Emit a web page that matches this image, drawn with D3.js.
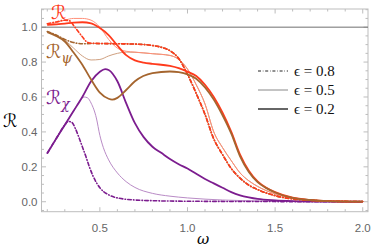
<!DOCTYPE html>
<html><head><meta charset="utf-8">
<script src="https://cdn.jsdelivr.net/npm/d3@7"></script>
<style>body{margin:0;background:#fff}svg{display:block}</style>
</head><body><svg id="c" width="374" height="248"></svg>
<script>
// ω grid points and curve values
const omegaThickR = [0.2,0.25,0.3,0.35,0.4,0.45,0.5,0.55,0.6,0.65,0.7,0.75,0.8,0.9,0.95,1.0,1.05,1.1,1.15,1.2,1.25,1.3,1.35,1.4,1.45,1.5,1.6,1.7,1.8,2.0];
const R_eps02 =        [1.013,1.016,1.02,1.026,1.028,1.022,0.995,0.955,0.895,0.84,0.81,0.797,0.79,0.778,0.765,0.745,0.72,0.67,0.60,0.51,0.40,0.27,0.178,0.117,0.08,0.055,0.023,0.01,0.004,0.001];
const omegaThickPsi = [0.2,0.25,0.3,0.35,0.4,0.45,0.5,0.55,0.57,0.6,0.65,0.7,0.8,0.9,0.95,1.0,1.05,1.1,1.15,1.2,1.25,1.3,1.35,1.4,1.45,1.5,1.6,1.7,1.8,2.0];
const Rpsi_eps02 =    [0.972,0.95,0.918,0.855,0.785,0.70,0.625,0.59,0.585,0.595,0.64,0.69,0.737,0.746,0.742,0.73,0.705,0.655,0.585,0.495,0.39,0.26,0.17,0.112,0.078,0.053,0.022,0.01,0.004,0.001];
const omegaThickChi = [0.2,0.25,0.3,0.35,0.4,0.45,0.5,0.53,0.55,0.6,0.65,0.7,0.75,0.8,0.85,0.9,0.95,1.0,1.05,1.1,1.15,1.2,1.25,1.3,1.35,1.4,1.5,1.6,1.8,2.0];
const Rchi_eps02 =    [0.278,0.36,0.44,0.52,0.60,0.69,0.745,0.76,0.755,0.69,0.565,0.45,0.37,0.315,0.28,0.245,0.215,0.19,0.16,0.13,0.105,0.08,0.055,0.037,0.025,0.016,0.008,0.004,0.001,0];

const omegaThinR = [0.2,0.25,0.3,0.35,0.4,0.45,0.5,0.55,0.6,0.65,0.7,0.8,0.9,0.95,1.0,1.05,1.1,1.15,1.2,1.25,1.3,1.35,1.4,1.5,1.6,1.7,1.8,2.0];
const R_eps05 =    [1.012,1.025,1.04,1.05,1.05,1.04,1.0,0.93,0.88,0.862,0.857,0.848,0.838,0.815,0.76,0.67,0.56,0.40,0.31,0.235,0.165,0.12,0.088,0.045,0.022,0.011,0.005,0.001];
const omegaThinPsi = [0.2,0.25,0.3,0.35,0.4,0.45,0.5,0.55,0.6,0.65,0.7,0.8,0.9,0.95,1.0,1.05,1.1,1.15,1.2,1.25,1.3,1.35,1.4,1.5,1.6,1.7,1.8,2.0];
const Rpsi_eps05 =   [0.975,0.955,0.925,0.88,0.835,0.812,0.815,0.835,0.85,0.857,0.856,0.848,0.838,0.815,0.76,0.67,0.56,0.40,0.31,0.235,0.165,0.12,0.088,0.045,0.022,0.011,0.005,0.001];
const omegaThinChi = [0.2,0.25,0.3,0.35,0.38,0.41,0.43,0.45,0.48,0.5,0.52,0.55,0.6,0.65,0.7,0.8,0.9,1.0,1.1,1.2,1.4,1.6,2.0];
const Rchi_eps05 =   [0.278,0.36,0.44,0.52,0.57,0.60,0.595,0.565,0.48,0.38,0.31,0.24,0.165,0.115,0.082,0.048,0.032,0.022,0.015,0.01,0.005,0.002,0];

const omegaDotR = [0.2,0.25,0.3,0.33,0.35,0.38,0.4,0.42,0.45,0.6,0.7,0.8,0.85,0.9,0.95,1.0,1.05,1.1,1.15,1.2,1.25,1.3,1.35,1.4,1.5,1.6,1.7,1.8,2.0];
const R_eps08 =   [1.02,1.03,1.04,1.035,1.01,0.97,0.945,0.92,0.908,0.905,0.903,0.895,0.885,0.865,0.82,0.73,0.62,0.50,0.36,0.27,0.19,0.135,0.095,0.07,0.035,0.016,0.008,0.004,0.001];
const omegaDotPsi = [0.2,0.25,0.3,0.35,0.4,0.45,0.6,0.7,0.8,0.85,0.9,0.95,1.0,1.05,1.1,1.15,1.2,1.25,1.3,1.35,1.4,1.5,1.6,1.7,1.8,2.0];
const Rpsi_eps08 =  [0.975,0.955,0.93,0.912,0.905,0.906,0.905,0.903,0.895,0.885,0.865,0.82,0.73,0.62,0.50,0.36,0.27,0.19,0.135,0.095,0.07,0.035,0.016,0.008,0.004,0.001];
const omegaDotChi = [0.2,0.25,0.3,0.32,0.34,0.36,0.38,0.4,0.42,0.44,0.46,0.48,0.5,0.55,0.6,0.7,0.8,1.0,1.5,2.0];
const Rchi_eps08 =  [0.278,0.36,0.44,0.46,0.455,0.42,0.37,0.315,0.26,0.2,0.15,0.11,0.08,0.04,0.022,0.01,0.006,0.003,0.001,0];

const yTickLabels = ["0.0","0.2","0.4","0.6","0.8","1.0"];
const xTickLabels = ["0.5","1.0","1.5","2.0"];
const legendLabels = ["ϵ = 0.8","ϵ = 0.5","ϵ = 0.2"];

const svg = d3.select("#c");
const x = d3.scaleLinear().domain([0.167,2.03]).range([41.5,368]);
const y = d3.scaleLinear().domain([-0.057,1.104]).range([211.7,9]);

const RED="#ff3a1c", RED_L="#ff8f78", BROWN="#a5652e", BROWN_L="#cfa080", PURP="#7c1d8f", PURP_L="#b98bc6";

// frame
svg.append("rect").attr("x",x.range()[0]).attr("y",y.range()[1])
  .attr("width",x.range()[1]-x.range()[0]).attr("height",y.range()[0]-y.range()[1])
  .attr("fill","none").attr("stroke","#bdbdbd").attr("stroke-width",1);

const tickCol="#bdbdbd";
const xMinor = d3.range(2,21).map(d=>d/10);
xMinor.forEach(v=>{
  const major = Math.abs(v*2-Math.round(v*2))<1e-9;
  const L = major?4.5:2.5;
  svg.append("line").attr("x1",x(v)).attr("x2",x(v)).attr("y1",y.range()[0]).attr("y2",y.range()[0]-L).attr("stroke",tickCol);
  svg.append("line").attr("x1",x(v)).attr("x2",x(v)).attr("y1",y.range()[1]).attr("y2",y.range()[1]+L).attr("stroke",tickCol);
});
const yMinor = d3.range(-1,23).map(d=>d*0.05).filter(v=>v>=-0.05&&v<=1.1);
yMinor.forEach(v=>{
  const major = Math.abs(v*5-Math.round(v*5))<1e-9;
  const L = major?4.5:2.5;
  svg.append("line").attr("y1",y(v)).attr("y2",y(v)).attr("x1",x.range()[0]).attr("x2",x.range()[0]+L).attr("stroke",tickCol);
  svg.append("line").attr("y1",y(v)).attr("y2",y(v)).attr("x1",x.range()[1]).attr("x2",x.range()[1]-L).attr("stroke",tickCol);
});
yTickLabels.forEach(t=>{
  svg.append("text").attr("x",37.5).attr("y",y(+t)).attr("dy","0.35em").attr("text-anchor","end")
    .attr("font-family","Liberation Sans, Arial, sans-serif").attr("font-size",11.5).attr("fill","#666").text(t);
});
xTickLabels.forEach(t=>{
  svg.append("text").attr("x",x(+t)).attr("y",232).attr("text-anchor","middle")
    .attr("font-family","Liberation Sans, Arial, sans-serif").attr("font-size",11.5).attr("fill","#666").text(t);
});

// reference line at 1
svg.append("line").attr("x1",x.range()[0]).attr("x2",x.range()[1]).attr("y1",y(1)).attr("y2",y(1))
  .attr("stroke","#707070").attr("stroke-width",1);

const line = d3.line().x(d=>x(d[0])).y(d=>y(d[1])).curve(d3.curveMonotoneX);
function draw(om, vals, col, w, dash){
  const p = svg.append("path").datum(om.map((o,i)=>[o,vals[i]])).attr("d",line)
    .attr("fill","none").attr("stroke",col).attr("stroke-width",w).attr("stroke-linejoin","round");
  if(dash) p.attr("stroke-dasharray",dash).attr("stroke-linecap","round");
}
const DD="3.5,2.2,0.6,2.2";
draw(omegaThinChi,Rchi_eps05,PURP_L,1);
draw(omegaDotChi,Rchi_eps08,PURP,1.6,DD);
draw(omegaThickChi,Rchi_eps02,PURP,1.8);
draw(omegaThinPsi,Rpsi_eps05,BROWN_L,1);
draw(omegaThinR,R_eps05,RED_L,1);
draw(omegaDotPsi,Rpsi_eps08,BROWN,1.6,DD);
draw(omegaDotR,R_eps08,RED,1.6,DD);
draw(omegaThickR,R_eps02,RED,1.8);
draw(omegaThickPsi,Rpsi_eps02,BROWN,1.8);

// curve labels
const sf="DejaVu Sans, sans-serif";
svg.append("text").attr("x",51).attr("y",19).attr("font-family",sf).attr("font-size",19).attr("fill",RED).text("ℛ");
const lp = svg.append("text").attr("x",46).attr("y",58).attr("font-family",sf).attr("font-size",19).attr("fill",BROWN);
lp.append("tspan").text("ℛ");
lp.append("tspan").attr("dy",5).attr("font-family","DejaVu Serif, serif").attr("font-style","italic").attr("font-size",14).text("ψ");
const lc = svg.append("text").attr("x",46).attr("y",104).attr("font-family",sf).attr("font-size",19).attr("fill",PURP);
lc.append("tspan").text("ℛ");
lc.append("tspan").attr("dy",5).attr("font-family","DejaVu Serif, serif").attr("font-style","italic").attr("font-size",14).text("χ");

// axis labels
svg.append("text").attr("x",3).attr("y",127).attr("font-family",sf).attr("font-size",18).attr("fill","#000").text("ℛ");
svg.append("text").attr("x",197).attr("y",243.5).attr("text-anchor","start").attr("font-family","DejaVu Serif, serif")
  .attr("font-style","italic").attr("font-size",15).attr("fill","#000").text("ω");

// legend
const legY=[71,90,109], legStyle=[["#222",1,"3,1.8,0.6,1.8"],["#888",1,null],["#555",1.8,null]];
legendLabels.forEach((t,i)=>{
  const l = svg.append("line").attr("x1",258).attr("x2",288).attr("y1",legY[i]).attr("y2",legY[i])
    .attr("stroke",legStyle[i][0]).attr("stroke-width",legStyle[i][1]);
  if(legStyle[i][2]) l.attr("stroke-dasharray",legStyle[i][2]);
  svg.append("text").attr("x",294).attr("y",legY[i]).attr("dy","0.35em")
    .attr("font-family","Liberation Serif, DejaVu Serif, serif").attr("font-size",15).attr("fill","#111").text(t);
});
</script></body></html>
